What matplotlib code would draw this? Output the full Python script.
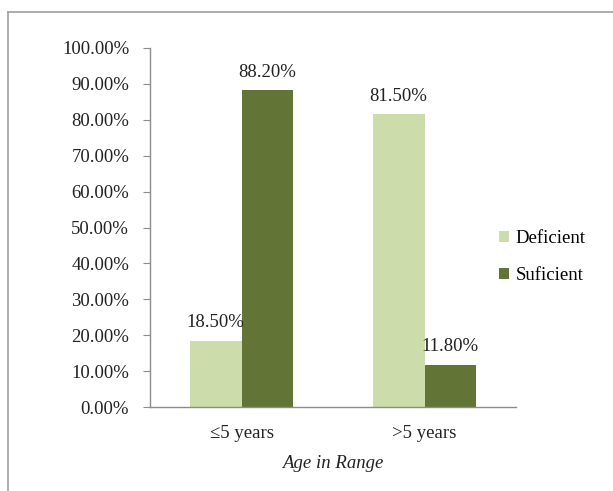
import matplotlib
matplotlib.use('Agg')
import matplotlib.pyplot as plt
from matplotlib.lines import Line2D
import numpy as np

categories = ['≤5 years', '>5 years']
deficient = [18.5, 81.5]
suficient = [88.2, 11.8]
series_names = ['Deficient', 'Suficient']
y_ticks = [0, 10, 20, 30, 40, 50, 60, 70, 80, 90, 100]

light = '#CDDCAB'
dark = '#637536'
grey = '#8C8C8C'
fs = 13.5

plt.rcParams['font.family'] = ['Liberation Serif', 'DejaVu Serif']

fig = plt.figure(figsize=(6.13, 4.91), dpi=100)
ax = fig.add_axes([150 / 613, 1 - 407 / 491, 366 / 613, 359 / 491])

x = np.arange(len(categories))
w = 0.283
b1 = ax.bar(x - w / 2, deficient, w, color=light, label=series_names[0])
b2 = ax.bar(x + w / 2, suficient, w, color=dark, label=series_names[1])

for bars, vals in ((b1, deficient), (b2, suficient)):
    for rect, v in zip(bars, vals):
        ax.annotate('%.2f%%' % v, (rect.get_x() + rect.get_width() / 2, v),
                    xytext=(0, 7), textcoords='offset points',
                    ha='center', va='bottom', fontsize=fs, color='#222222')

ax.set_xlim(-0.5, 1.5)
ax.set_ylim(0, 100)
ax.set_yticks(y_ticks)
ax.set_yticklabels(['%.2f%%' % t for t in y_ticks], fontsize=fs, color='#222222')
ax.set_xticks(x)
ax.set_xticklabels(categories, fontsize=fs, color='#222222')
ax.tick_params(axis='x', length=0, pad=13)
ax.tick_params(axis='y', length=5, color=grey, pad=10)
ax.set_xlabel('Age in Range', fontsize=fs, style='italic', color='#222222', labelpad=9)

for side in ('top', 'right'):
    ax.spines[side].set_visible(False)
for side in ('left', 'bottom'):
    ax.spines[side].set_color(grey)
    ax.spines[side].set_linewidth(1.0)

fig.legend(handles=[b1, b2], loc='center left', bbox_to_anchor=(0.786, 0.476),
           frameon=False, fontsize=fs, handlelength=0.55, handleheight=0.55,
           handletextpad=0.35, labelspacing=1.05)

# outer frame around the chart area
fig.add_artist(Line2D([8 / 613, 8 / 613], [0, 1 - 12 / 491], color='#A0A0A0', lw=1.2))
fig.add_artist(Line2D([8 / 613, 1], [1 - 12 / 491, 1 - 12 / 491], color='#A0A0A0', lw=1.2))

fig.savefig('out.png', dpi=100)
